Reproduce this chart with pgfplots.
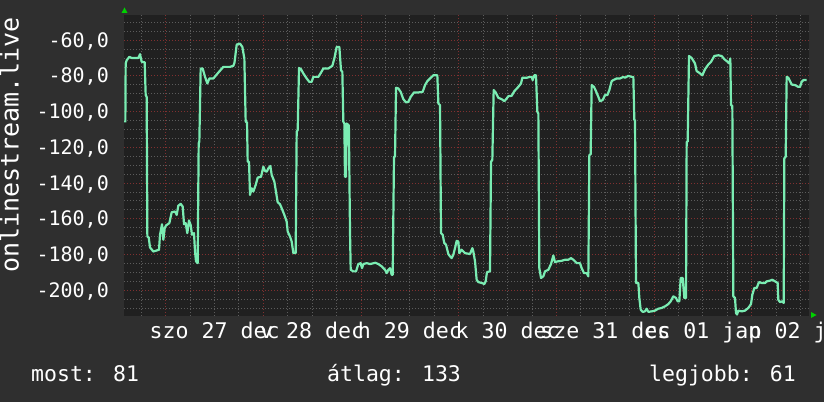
\documentclass[border=0pt]{standalone}
\usepackage{pgfplots}
\pgfplotsset{compat=1.18}
\usepackage{fontspec}
\setmainfont{DejaVu Sans Mono}
\definecolor{outerbg}{RGB}{47,47,47}
\definecolor{plotbg}{RGB}{32,32,32}
\definecolor{gridgray}{RGB}{92,92,92}
\definecolor{gridred}{RGB}{128,48,48}
\definecolor{linegreen}{RGB}{122,236,178}
\definecolor{arrowgreen}{RGB}{0,210,0}
\begin{document}
\begin{tikzpicture}[x=1pt,y=1pt]
\fill[outerbg] (0,0) rectangle (824,402);
\begin{axis}[
  at={(124pt,86pt)}, anchor=south west,
  width=685pt, height=301pt, scale only axis,
  xmin=-10.25, xmax=158.06, ymin=-214.4, ymax=-45.85,
  axis background/.style={fill=plotbg},
  axis line style={draw=none},
  grid=both, xmajorgrids=false,
  major grid style={draw=gridred, line width=1pt, dash pattern=on 1pt off 2pt},
  minor grid style={draw=gridgray, line width=1pt, dash pattern=on 1pt off 2pt},
  major tick length=0pt, minor tick length=0pt,
  xtick={12,36,60,84,108,132,156},
  xticklabels={szo 27 dec, v 28 dec, h 29 dec, k 30 dec, sze 31 dec, cs 01 jan, p 02 jan},
  minor xtick={-6,6,12,18,30,36,42,54,60,66,78,84,90,102,108,114,126,132,138,150,156},
  extra x ticks={0,24,48,72,96,120,144},
  extra x tick labels={,,,,,,},
  extra x tick style={grid=major},
  ytick={-200,-180,-160,-140,-120,-100,-80,-60},
  yticklabels={{-200,0},{-180,0},{-160,0},{-140,0},{-120,0},{-100,0},{-80,0},{-60,0}},
  minor ytick={-210,-205,-195,-190,-185,-175,-170,-165,-155,-150,-145,-135,-130,-125,-115,-110,-105,-95,-90,-85,-75,-70,-65,-55,-50},
  xticklabel style={font=\fontsize{21.6}{24}\selectfont, text=white, anchor=base, yshift=-22pt, inner sep=0pt},
  yticklabel style={font=\fontsize{20}{24}\selectfont, text=white, anchor=base east, xshift=-15pt, yshift=-7pt, inner sep=0pt},
]
\addplot[color=linegreen, line width=2.2pt, mark=none, line join=round] coordinates {
(-9.92,-106.0) (-9.84,-73.0) (-9.59,-71.2) (-8.94,-69.3) (-8.36,-69.9) (-6.72,-69.9) (-6.31,-67.8) (-5.90,-72.1) (-5.17,-72.3) (-4.92,-90.7) (-4.68,-91.7) (-4.51,-169.9) (-4.18,-170.4) (-3.86,-176.0) (-3.04,-178.3) (-2.22,-177.7) (-1.65,-177.3) (-1.40,-168.9) (-0.91,-163.0) (-0.58,-171.7) (-0.25,-165.2) (0.07,-163.7) (0.89,-162.4) (1.47,-156.3) (2.29,-155.9) (2.70,-157.8) (3.10,-152.6) (3.68,-151.6) (4.17,-153.1) (4.50,-163.0) (4.91,-162.4) (5.31,-168.0) (5.72,-160.9) (6.13,-163.4) (6.46,-168.9) (6.95,-168.0) (7.20,-178.3) (7.44,-183.8) (7.85,-184.8) (8.10,-117.7) (8.26,-116.8) (8.59,-75.8) (9.08,-75.8) (9.66,-80.5) (10.23,-84.2) (10.72,-81.4) (11.70,-81.4) (12.93,-78.1) (14.16,-74.9) (15.80,-74.9) (16.62,-74.3) (16.90,-72.5)
(17.44,-62.4) (18.26,-61.9) (18.83,-63.7) (19.32,-70.2) (19.65,-105.6) (19.98,-106.0) (20.14,-128.0) (20.47,-128.0) (20.71,-146.6) (21.12,-142.9) (21.53,-144.7) (22.11,-141.0) (22.60,-136.9) (23.42,-136.4) (23.99,-130.8) (24.40,-133.2) (24.81,-133.6) (25.22,-131.7) (25.71,-130.4) (26.04,-135.4) (26.69,-139.1) (27.02,-143.8) (27.51,-150.7) (28.08,-151.8) (28.49,-154.0) (29.15,-157.8) (29.72,-161.5) (29.97,-167.1) (30.54,-169.9) (30.95,-172.7) (31.36,-179.2) (31.93,-179.2) (32.18,-111.2) (32.43,-110.3) (32.75,-75.5) (33.24,-76.2) (33.82,-78.6) (34.64,-81.4) (35.29,-83.3) (35.86,-83.3) (36.27,-80.5) (37.50,-80.5) (38.16,-78.1) (38.73,-75.8) (39.96,-75.8) (40.94,-74.3) (41.43,-70.2) (42.01,-63.7) (42.66,-63.7) (43.07,-76.8) (43.40,-77.7) (43.64,-105.6) (43.89,-106.6) (44.05,-136.4) (44.30,-136.4) (44.46,-106.6) (44.87,-107.5) (45.00,-107.5) (45.28,-167.0)
(45.45,-188.5) (46.10,-189.4) (46.76,-189.4) (47.33,-185.3) (47.90,-184.8) (48.23,-187.6) (48.56,-185.3) (49.38,-184.8) (50.20,-185.3) (51.51,-184.6) (52.24,-185.3) (53.06,-186.6) (53.88,-188.5) (54.29,-190.4) (54.70,-188.5) (55.11,-187.6) (55.52,-191.3) (55.77,-191.3) (56.09,-125.2) (56.34,-125.2) (56.59,-86.6) (57.16,-87.0) (57.73,-88.9) (58.39,-93.0) (59.04,-94.8) (59.61,-94.5) (60.19,-91.7) (61.01,-89.2) (62.07,-89.2) (63.14,-88.9) (63.71,-85.1) (64.28,-82.9) (64.94,-81.4) (65.76,-79.6) (66.74,-79.6) (66.99,-95.4) (67.40,-96.3) (67.64,-168.0) (68.05,-168.9) (68.46,-173.6) (68.87,-174.5) (69.44,-179.7) (69.85,-181.0) (70.26,-182.0) (70.67,-180.1) (71.08,-176.4) (71.49,-172.3) (71.90,-172.7) (72.14,-179.2) (72.72,-177.3) (73.54,-179.2)
(74.77,-179.7) (75.34,-176.4) (75.58,-178.2) (76.00,-183.8) (76.40,-194.1) (76.81,-195.4) (77.63,-195.9) (78.29,-196.5) (78.62,-195.0) (78.94,-189.8) (79.68,-189.4) (79.93,-128.0) (80.25,-127.0) (80.58,-87.9) (81.07,-89.2) (81.73,-92.2) (82.55,-93.0) (83.20,-94.1) (83.78,-92.6) (84.19,-91.3) (85.00,-91.1) (85.66,-88.5) (86.64,-86.1) (87.30,-84.2) (87.62,-81.0) (88.69,-81.0) (89.51,-80.5) (89.92,-80.5) (90.16,-82.3) (90.57,-79.6) (90.98,-79.6) (91.31,-100.0) (91.56,-101.0) (91.80,-187.6) (92.21,-193.1) (92.78,-192.2) (93.19,-189.4) (94.01,-188.5) (94.67,-185.3) (95.24,-180.5) (95.65,-184.2) (96.31,-183.8) (97.29,-183.5) (98.11,-182.9) (98.93,-182.9) (99.58,-182.0) (100.16,-182.9) (100.98,-184.8) (101.79,-184.8)
(102.20,-187.6) (102.78,-190.4) (103.43,-190.4) (103.84,-192.2) (104.09,-124.2) (104.41,-123.9) (104.66,-85.1) (105.23,-86.1) (105.72,-88.5) (106.30,-91.7) (106.71,-94.1) (107.36,-93.5) (107.94,-90.7) (108.51,-90.7) (109.00,-87.9) (109.57,-82.9) (109.98,-82.3) (110.80,-81.4) (111.62,-81.4) (112.44,-80.5) (112.85,-81.0) (113.67,-79.9) (114.49,-80.5) (114.90,-80.5) (115.14,-104.7) (115.31,-104.7) (115.55,-195.9) (116.13,-195.9) (116.37,-204.3) (116.70,-210.8) (117.19,-212.1) (117.76,-211.8) (118.17,-210.3) (118.58,-212.1) (119.40,-211.8) (120.22,-211.4) (121.04,-210.3) (121.86,-209.9) (122.68,-209.0) (123.50,-207.7) (124.07,-206.2) (124.72,-203.4) (125.38,-204.3) (125.79,-206.2) (126.20,-206.2) (126.53,-193.1) (127.02,-193.1) (127.43,-204.3) (127.84,-204.3) (128.00,-116.8) (128.25,-116.8) (128.57,-68.8) (129.23,-69.9) (130.05,-73.0)
(130.46,-77.3) (131.03,-78.1) (131.85,-79.6) (132.51,-76.2) (133.32,-73.6) (133.98,-72.1) (134.80,-68.8) (135.78,-68.4) (136.60,-68.8) (137.26,-70.6) (138.08,-72.1) (138.48,-73.0) (138.73,-70.2) (138.89,-96.3) (139.22,-96.7) (139.47,-203.4) (139.88,-204.3) (140.12,-212.7) (140.37,-213.6) (140.70,-211.4) (141.52,-211.8) (142.33,-211.4) (143.15,-209.9) (143.81,-207.7) (144.13,-202.5) (144.63,-198.7) (145.20,-198.7) (145.77,-195.4) (146.43,-195.9) (147.25,-195.9) (147.66,-195.0) (148.48,-194.6) (149.05,-194.1) (149.71,-195.0) (150.36,-195.9) (150.52,-205.3) (150.93,-206.6) (151.51,-206.2) (151.84,-207.1) (152.00,-126.1) (152.33,-125.2) (152.57,-80.5) (152.98,-81.0) (153.80,-84.8) (154.62,-85.1) (155.44,-86.1) (155.85,-86.1) (156.26,-83.3) (156.67,-82.3) (157.49,-82.3)
};
\end{axis}
\node[rotate=90, anchor=base, inner sep=0pt, text=white, font=\fontsize{25}{30}\selectfont] at (18.5,257) {onlinestream.live};
\node[anchor=base west, inner sep=0pt, text=white, font=\fontsize{21.5}{24}\selectfont] at (31,21) {most: 81};
\node[anchor=base west, inner sep=0pt, text=white, font=\fontsize{21.5}{24}\selectfont] at (327,21) {átlag: 133};
\node[anchor=base west, inner sep=0pt, text=white, font=\fontsize{21.5}{24}\selectfont] at (649,21) {legjobb: 61};
\fill[arrowgreen] (121.5,389) -- (127.5,389) -- (124.5,394.5) -- cycle;
\fill[arrowgreen] (811,90) -- (811,84) -- (816.5,87) -- cycle;
\pgfresetboundingbox
\path (0,0) rectangle (824,402);
\end{tikzpicture}
\end{document}
